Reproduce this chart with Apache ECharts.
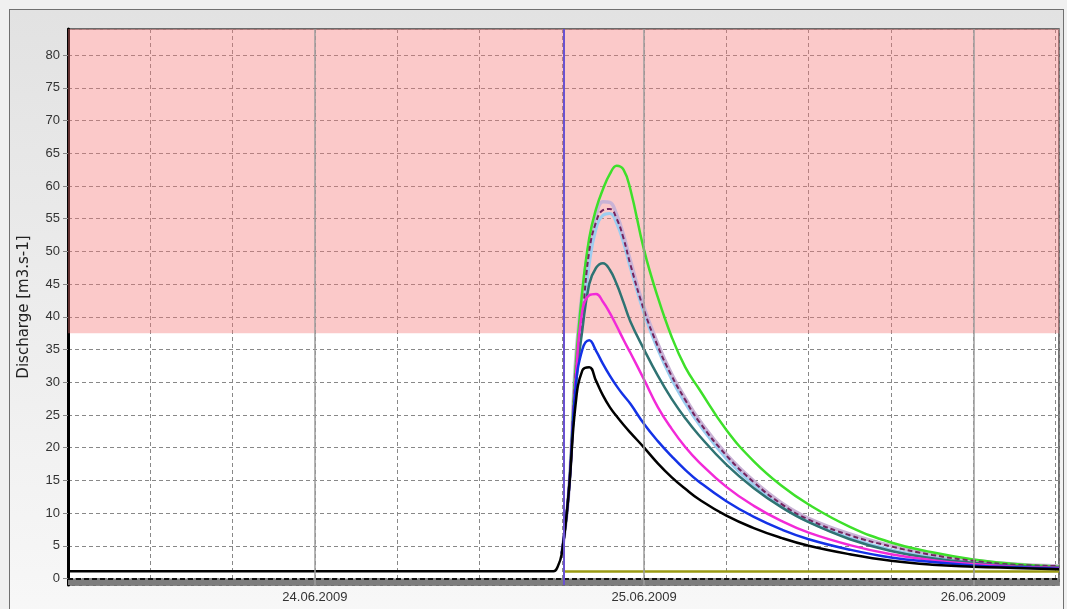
<!DOCTYPE html>
<html>
<head>
<meta charset="utf-8">
<script src="https://cdn.jsdelivr.net/npm/echarts@6/dist/echarts.min.js"></script>
<style>
  html, body { margin: 0; padding: 0; background: #f0f0f0; }
  #frame { position: absolute; left: 9px; top: 9px; width: 1053px; height: 620px;
           border: 1px solid #707070; background: linear-gradient(#e2e2e2, #f8f8f8); }
  #chart { position: absolute; left: 0; top: 0; width: 1067px; height: 609px; }
</style>
</head>
<body>
<div id="frame"></div>
<div id="chart"></div>
<script>
// hours since 24.06.2009 00:00
const dayHours = [0, 24, 48];
const dayLabels = ['24.06.2009', '25.06.2009', '26.06.2009'];
const forecastStart = 18.15;
const alarmLevel = 37.5;

const obsHours = [-18, 17.4, 17.7];
const obsFlow = [1.1, 1.1, 1.8];

const fcHours = [18.0, 18.5, 19.0, 19.5, 20.0, 20.5, 21.0, 21.5, 22.0, 22.5, 23.0, 24, 25, 26, 27, 28, 30, 32, 34, 36, 39, 42, 45, 48, 51, 54.25];

const blackFlow    = [3.8, 13, 26.5, 31.8, 32.3, 30.2, 28.0, 26.2, 24.8, 23.5, 22.3, 20.0, 17.6, 15.5, 13.7, 12.1, 9.6, 7.7, 6.2, 5.0, 3.7, 2.7, 2.1, 1.8, 1.6, 1.4];
const blueFlow     = [3.8, 13, 29, 35, 36.4, 34.8, 32.8, 31.0, 29.4, 28.0, 26.7, 23.6, 21.0, 18.7, 16.6, 14.8, 11.8, 9.4, 7.5, 6.0, 4.4, 3.2, 2.5, 2.0, 1.7, 1.5];
const magentaFlow  = [3.8, 13, 30, 41, 43.3, 43.5, 42.3, 40.6, 38.6, 36.5, 34.5, 30.4, 26.2, 22.9, 20.1, 17.8, 14.0, 11.1, 8.8, 7.0, 5.1, 3.7, 2.8, 2.2, 1.8, 1.6];
const tealFlow     = [3.8, 13, 29, 38, 45, 47.5, 48.2, 47.2, 45.0, 42.2, 39.3, 35.0, 31.0, 27.5, 24.5, 21.9, 17.4, 13.8, 10.9, 8.6, 6.0, 4.2, 3.1, 2.4, 1.9, 1.7];
const lightBlueFlow= [3.8, 13, 30, 39, 48, 53.5, 55.5, 55.8, 54.3, 51.3, 47.5, 40.5, 35.0, 30.5, 26.8, 23.6, 18.3, 14.3, 11.0, 8.7, 6.2, 4.4, 3.3, 2.5, 2.0, 1.8];
const purpleFlow   = [3.8, 13, 31, 40, 50, 54.5, 56.3, 56.5, 55.0, 52.0, 48.0, 41.0, 35.5, 31.0, 27.3, 24.0, 18.8, 14.7, 11.4, 9.0, 6.6, 4.9, 3.6, 2.7, 2.1, 1.9];
const lavenderFlow = [3.8, 13, 33, 44, 51, 55.5, 57.6, 57.5, 55.6, 52.5, 48.6, 41.4, 35.9, 31.3, 27.6, 24.3, 19.0, 14.9, 11.6, 9.2, 6.8, 5.0, 3.7, 2.8, 2.2, 1.9];
const greenFlow    = [3.8, 13, 32, 44, 52, 56.5, 59.5, 61.8, 63.1, 62.5, 59.5, 50.2, 43.0, 37.0, 32.3, 29.0, 22.7, 17.9, 14.2, 11.3, 7.9, 5.5, 4.0, 2.9, 2.2, 1.8];

const oliveHours = [18.15, 54.25];
const oliveFlow = [1.05, 1.05];

function zip(xs, ys) { return xs.map((x, i) => [x, ys[i]]); }

const chart = echarts.init(document.getElementById('chart'), null, { renderer: 'canvas' });
const font = 'Liberation Sans, Arial, sans-serif';

function fc(name, values, color, width, extra) {
  return Object.assign({
    name, type: 'line', data: zip(fcHours, values), showSymbol: false, smooth: 0.45,
    lineStyle: { color, width }, z: 3
  }, extra || {});
}

const option = {
  animation: false,
  textStyle: { fontFamily: font },
  grid: { left: 68, top: 29, right: 8, bottom: 24, show: true, backgroundColor: '#ffffff',
          borderColor: '#444', borderWidth: 1.5 },
  xAxis: {
    type: 'value', min: -18, max: 54.25, interval: 6,
    axisLine: { show: false }, axisTick: { show: false },
    axisLabel: { color: '#333', fontSize: 13, margin: 6,
      formatter: v => { const i = dayHours.indexOf(v); return i >= 0 ? dayLabels[i] : ''; } },
    splitLine: { show: true, lineStyle: { color: '#888', type: [4, 3], width: 1 } }
  },
  yAxis: {
    type: 'value', min: -1, max: 84, splitNumber: 17,
    name: 'Discharge [m3.s-1]', nameLocation: 'middle', nameGap: 36,
    nameTextStyle: { color: '#222', fontSize: 15, fontFamily: 'DejaVu Sans, sans-serif' },
    axisLine: { show: true, onZero: false, lineStyle: { color: '#000', width: 3 } },
    axisTick: { show: true, length: 5, lineStyle: { color: '#888' } },
    axisLabel: { color: '#333', fontSize: 13, margin: 8, showMinLabel: false, showMaxLabel: false },
    splitLine: { show: true, lineStyle: { color: '#888', type: [4, 3], width: 1 } }
  },
  series: [
    { name: 'zones', type: 'line', data: [], z: 1,
      markArea: { silent: true, data: [
        [{ yAxis: alarmLevel, itemStyle: { color: 'rgba(244,120,120,0.4)' } }, { yAxis: 84 }],
        [{ yAxis: -1, itemStyle: { color: '#7d7d7d' } }, { yAxis: 0 }]
      ] },
      markLine: { silent: true, symbol: 'none', label: { show: false }, data: [
        { xAxis: dayHours[0], lineStyle: { color: '#9c9c9c', width: 1.5, type: 'solid' } },
        { xAxis: dayHours[1], lineStyle: { color: '#9c9c9c', width: 1.5, type: 'solid' } },
        { xAxis: dayHours[2], lineStyle: { color: '#9c9c9c', width: 1.5, type: 'solid' } },
        { yAxis: 0, lineStyle: { color: '#111', width: 2, type: [5, 3] } }
      ] }
    },
    fc('light blue', lightBlueFlow, '#9ccdf0', 3),
    fc('lavender', lavenderFlow, '#c9b3d6', 3.5),
    fc('green', greenFlow, '#3ee02a', 2.5),
    fc('purple', purpleFlow, '#74245f', 2, { lineStyle: { color: '#74245f', width: 2, type: [5, 3] } }),
    fc('teal', tealFlow, '#2f7373', 2.5),
    fc('magenta', magentaFlow, '#f22ad8', 2.5),
    fc('blue', blueFlow, '#1432e6', 2.5),
    { name: 'observed', type: 'line', data: zip(obsHours.concat(fcHours), obsFlow.concat(blackFlow)),
      showSymbol: false, smooth: 0.45, lineStyle: { color: '#000', width: 2.5 }, z: 4 },
    { name: 'olive', type: 'line', data: zip(oliveHours, oliveFlow), showSymbol: false,
      lineStyle: { color: '#9a9a12', width: 2.5 }, z: 3 },
    { name: 'forecast start', type: 'line', data: [], z: 5,
      markLine: { silent: true, symbol: 'none', label: { show: false }, data: [
        { xAxis: forecastStart, lineStyle: { color: '#6a52d0', width: 2, type: 'solid' } }
      ] }
    }
  ]
};
chart.setOption(option);
</script>
</body>
</html>
